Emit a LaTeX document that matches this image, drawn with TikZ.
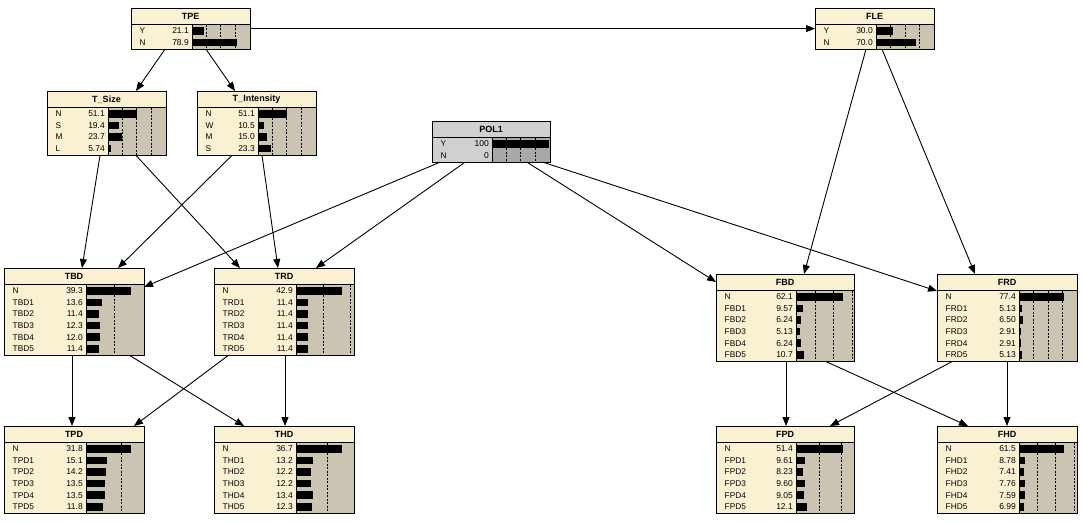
\documentclass[tikz,border=0pt]{standalone}
\usepackage{fontspec}
\setmainfont{Liberation Sans}
\usetikzlibrary{arrows.meta}
\definecolor{cream}{RGB}{250,241,210}
\definecolor{tan}{RGB}{204,196,178}
\definecolor{glabel}{RGB}{208,208,208}
\definecolor{gbar}{RGB}{168,168,168}
\tikzset{
  arr/.style={-{Triangle[length=9pt,width=7pt]}, line width=0.9pt},
  boxframe/.style={draw=black, line width=0.9pt, inner sep=0pt, outer sep=0pt, anchor=north west},
  lab/.style={font=\fontsize{8.3}{9}\selectfont, inner sep=0pt, anchor=west},
  val/.style={font=\fontsize{8.5}{9}\selectfont, inner sep=0pt, anchor=east},
  ttl/.style={font=\fontsize{9}{10}\selectfont\bfseries, inner sep=0pt},
  gridline/.style={line width=0.5pt, dash pattern=on 2pt off 1.5pt},
}
% #1 name #2 x #3 y #4 w #5 divider #6 rows #7 title #8 label colour #9 bar colour
\newcommand{\bnbox}[9]{%
  \begin{scope}[shift={(#2,#3)}]
    \pgfmathsetmacro{\bnH}{16+#6*11.6+2}
    \fill[#8] (0,0) rectangle (#4,\bnH);
    \fill[#9] (#5,16) rectangle (#4,\bnH);
    \draw[line width=0.6pt] (0,16) -- (#4,16);
    \draw[line width=0.6pt] (#5,16) -- (#5,\bnH);
    \node[ttl] at (#4/2,8.5) {#7};
    \node[boxframe, minimum width=#4pt, minimum height=\bnH pt] (#1) at (0,0) {};
  \end{scope}}
% #1 x #2 y #3 w #4 divider #5 rows #6 scale #7 list
\newcommand{\bnbars}[7]{%
  \begin{scope}[shift={(#1,#2)}]
    \pgfmathsetmacro{\bnH}{16+#5*11.6+2}
    \foreach \k in {1,2,3}{
      \pgfmathtruncatemacro{\bnok}{(\k*25*#6 < #3-#4-1.5) ? 1 : 0}
      \ifnum\bnok=1 \draw[gridline] (#4+\k*25*#6,16.5) -- (#4+\k*25*#6,\bnH-0.5); \fi
    }
    \foreach \lab/\val [count=\i] in {#7}{
      \pgfmathsetmacro{\bnyc}{17+(\i-0.5)*11.6}
      \node[lab] at (8.5,\bnyc) {\lab};
      \node[val] at (#4-3,\bnyc) {\val};
      \fill (#4,\bnyc-3.8) rectangle (#4+\val*#6,\bnyc+3.8);
    }
  \end{scope}}
\begin{document}
\begin{tikzpicture}[x=1pt,y=-1pt]
\fill[white] (0,0) rectangle (1084,522);
\useasboundingbox (0,0) rectangle (1084,522);

\bnbox{TPE}{131}{8}{119}{61}{2}{TPE}{cream}{tan}
\bnbars{131}{8}{119}{61}{2}{0.57}{Y/21.1,N/78.9}
\bnbox{FLE}{815}{8}{119}{61}{2}{FLE}{cream}{tan}
\bnbars{815}{8}{119}{61}{2}{0.575}{Y/30.0,N/70.0}
\bnbox{TSize}{47}{91}{119}{61}{4}{T\_Size}{cream}{tan}
\bnbars{47}{91}{119}{61}{4}{0.57}{N/51.1,S/19.4,M/23.7,L/5.74}
\bnbox{TIntensity}{197}{91}{119}{61}{4}{T\_Intensity}{cream}{tan}
\bnbars{197}{91}{119}{61}{4}{0.57}{N/51.1,W/10.5,M/15.0,S/23.3}
\bnbox{POL1}{432}{121}{118}{60}{2}{POL1}{glabel}{gbar}
\bnbars{432}{121}{118}{60}{2}{0.57}{Y/100,N/0}

\bnbox{TBD}{4}{268}{140}{82}{6}{TBD}{cream}{tan}
\bnbars{4}{268}{140}{82}{6}{1.14}{N/39.3,TBD1/13.6,TBD2/11.4,TBD3/12.3,TBD4/12.0,TBD5/11.4}
\bnbox{TRD}{214}{268}{140}{82}{6}{TRD}{cream}{tan}
\bnbars{214}{268}{140}{82}{6}{1.08}{N/42.9,TRD1/11.4,TRD2/11.4,TRD3/11.4,TRD4/11.4,TRD5/11.4}
\bnbox{FBD}{716}{274}{138}{80}{6}{FBD}{cream}{tan}
\bnbars{716}{274}{138}{80}{6}{0.75}{N/62.1,FBD1/9.57,FBD2/6.24,FBD3/5.13,FBD4/6.24,FBD5/10.7}
\bnbox{FRD}{937}{274}{140}{82}{6}{FRD}{cream}{tan}
\bnbars{937}{274}{140}{82}{6}{0.58}{N/77.4,FRD1/5.13,FRD2/6.50,FRD3/2.91,FRD4/2.91,FRD5/5.13}

\bnbox{TPD}{4}{426}{140}{82}{6}{TPD}{cream}{tan}
\bnbars{4}{426}{140}{82}{6}{1.41}{N/31.8,TPD1/15.1,TPD2/14.2,TPD3/13.5,TPD4/13.5,TPD5/11.8}
\bnbox{THD}{214}{426}{140}{82}{6}{THD}{cream}{tan}
\bnbars{214}{426}{140}{82}{6}{1.26}{N/36.7,THD1/13.2,THD2/12.2,THD3/12.2,THD4/13.4,THD5/12.3}
\bnbox{FPD}{716}{426}{138}{80}{6}{FPD}{cream}{tan}
\bnbars{716}{426}{138}{80}{6}{0.91}{N/51.4,FPD1/9.61,FPD2/8.23,FPD3/9.60,FPD4/9.05,FPD5/12.1}
\bnbox{FHD}{937}{426}{140}{82}{6}{FHD}{cream}{tan}
\bnbars{937}{426}{140}{82}{6}{0.73}{N/61.5,FHD1/8.78,FHD2/7.41,FHD3/7.76,FHD4/7.59,FHD5/6.99}

\draw[arr] ([xshift=34pt]TPE.south west) -- ([xshift=89pt]TSize.north west);
\draw[arr] ([xshift=75pt]TPE.south west) -- ([xshift=38pt]TIntensity.north west);
\draw[arr] (TPE.east) -- (FLE.west);
\draw[arr] ([xshift=51pt]FLE.south west) -- ([xshift=88pt]FBD.north west);
\draw[arr] ([xshift=67pt]FLE.south west) -- ([xshift=38pt]FRD.north west);
\draw[arr] ([xshift=53pt]TSize.south west) -- ([xshift=78pt]TBD.north west);
\draw[arr] ([xshift=89pt]TSize.south west) -- ([xshift=26pt]TRD.north west);
\draw[arr] ([xshift=35pt]TIntensity.south west) -- ([xshift=114pt]TBD.north west);
\draw[arr] ([xshift=65pt]TIntensity.south west) -- ([xshift=64pt]TRD.north west);
\draw[arr] ([xshift=8pt]POL1.south west) -- ([yshift=-19pt]TBD.north east);
\draw[arr] ([xshift=33pt]POL1.south west) -- ([xshift=102pt]TRD.north west);
\draw[arr] ([xshift=95pt]POL1.south west) -- ([yshift=-8pt]FBD.north west);
\draw[arr] ([xshift=111pt]POL1.south west) -- ([yshift=-17pt]FRD.north west);
\draw[arr] ([xshift=68pt]TBD.south west) -- ([xshift=68pt]TPD.north west);
\draw[arr] ([xshift=126pt]TBD.south west) -- ([xshift=30pt]THD.north west);
\draw[arr] ([xshift=14pt]TRD.south west) -- ([xshift=130pt]TPD.north west);
\draw[arr] ([xshift=71pt]TRD.south west) -- ([xshift=71pt]THD.north west);
\draw[arr] ([xshift=70pt]FBD.south west) -- ([xshift=70pt]FPD.north west);
\draw[arr] ([xshift=110pt]FBD.south west) -- ([xshift=31pt]FHD.north west);
\draw[arr] ([xshift=15pt]FRD.south west) -- ([xshift=114pt]FPD.north west);
\draw[arr] ([xshift=70pt]FRD.south west) -- ([xshift=70pt]FHD.north west);
\end{tikzpicture}
\end{document}
